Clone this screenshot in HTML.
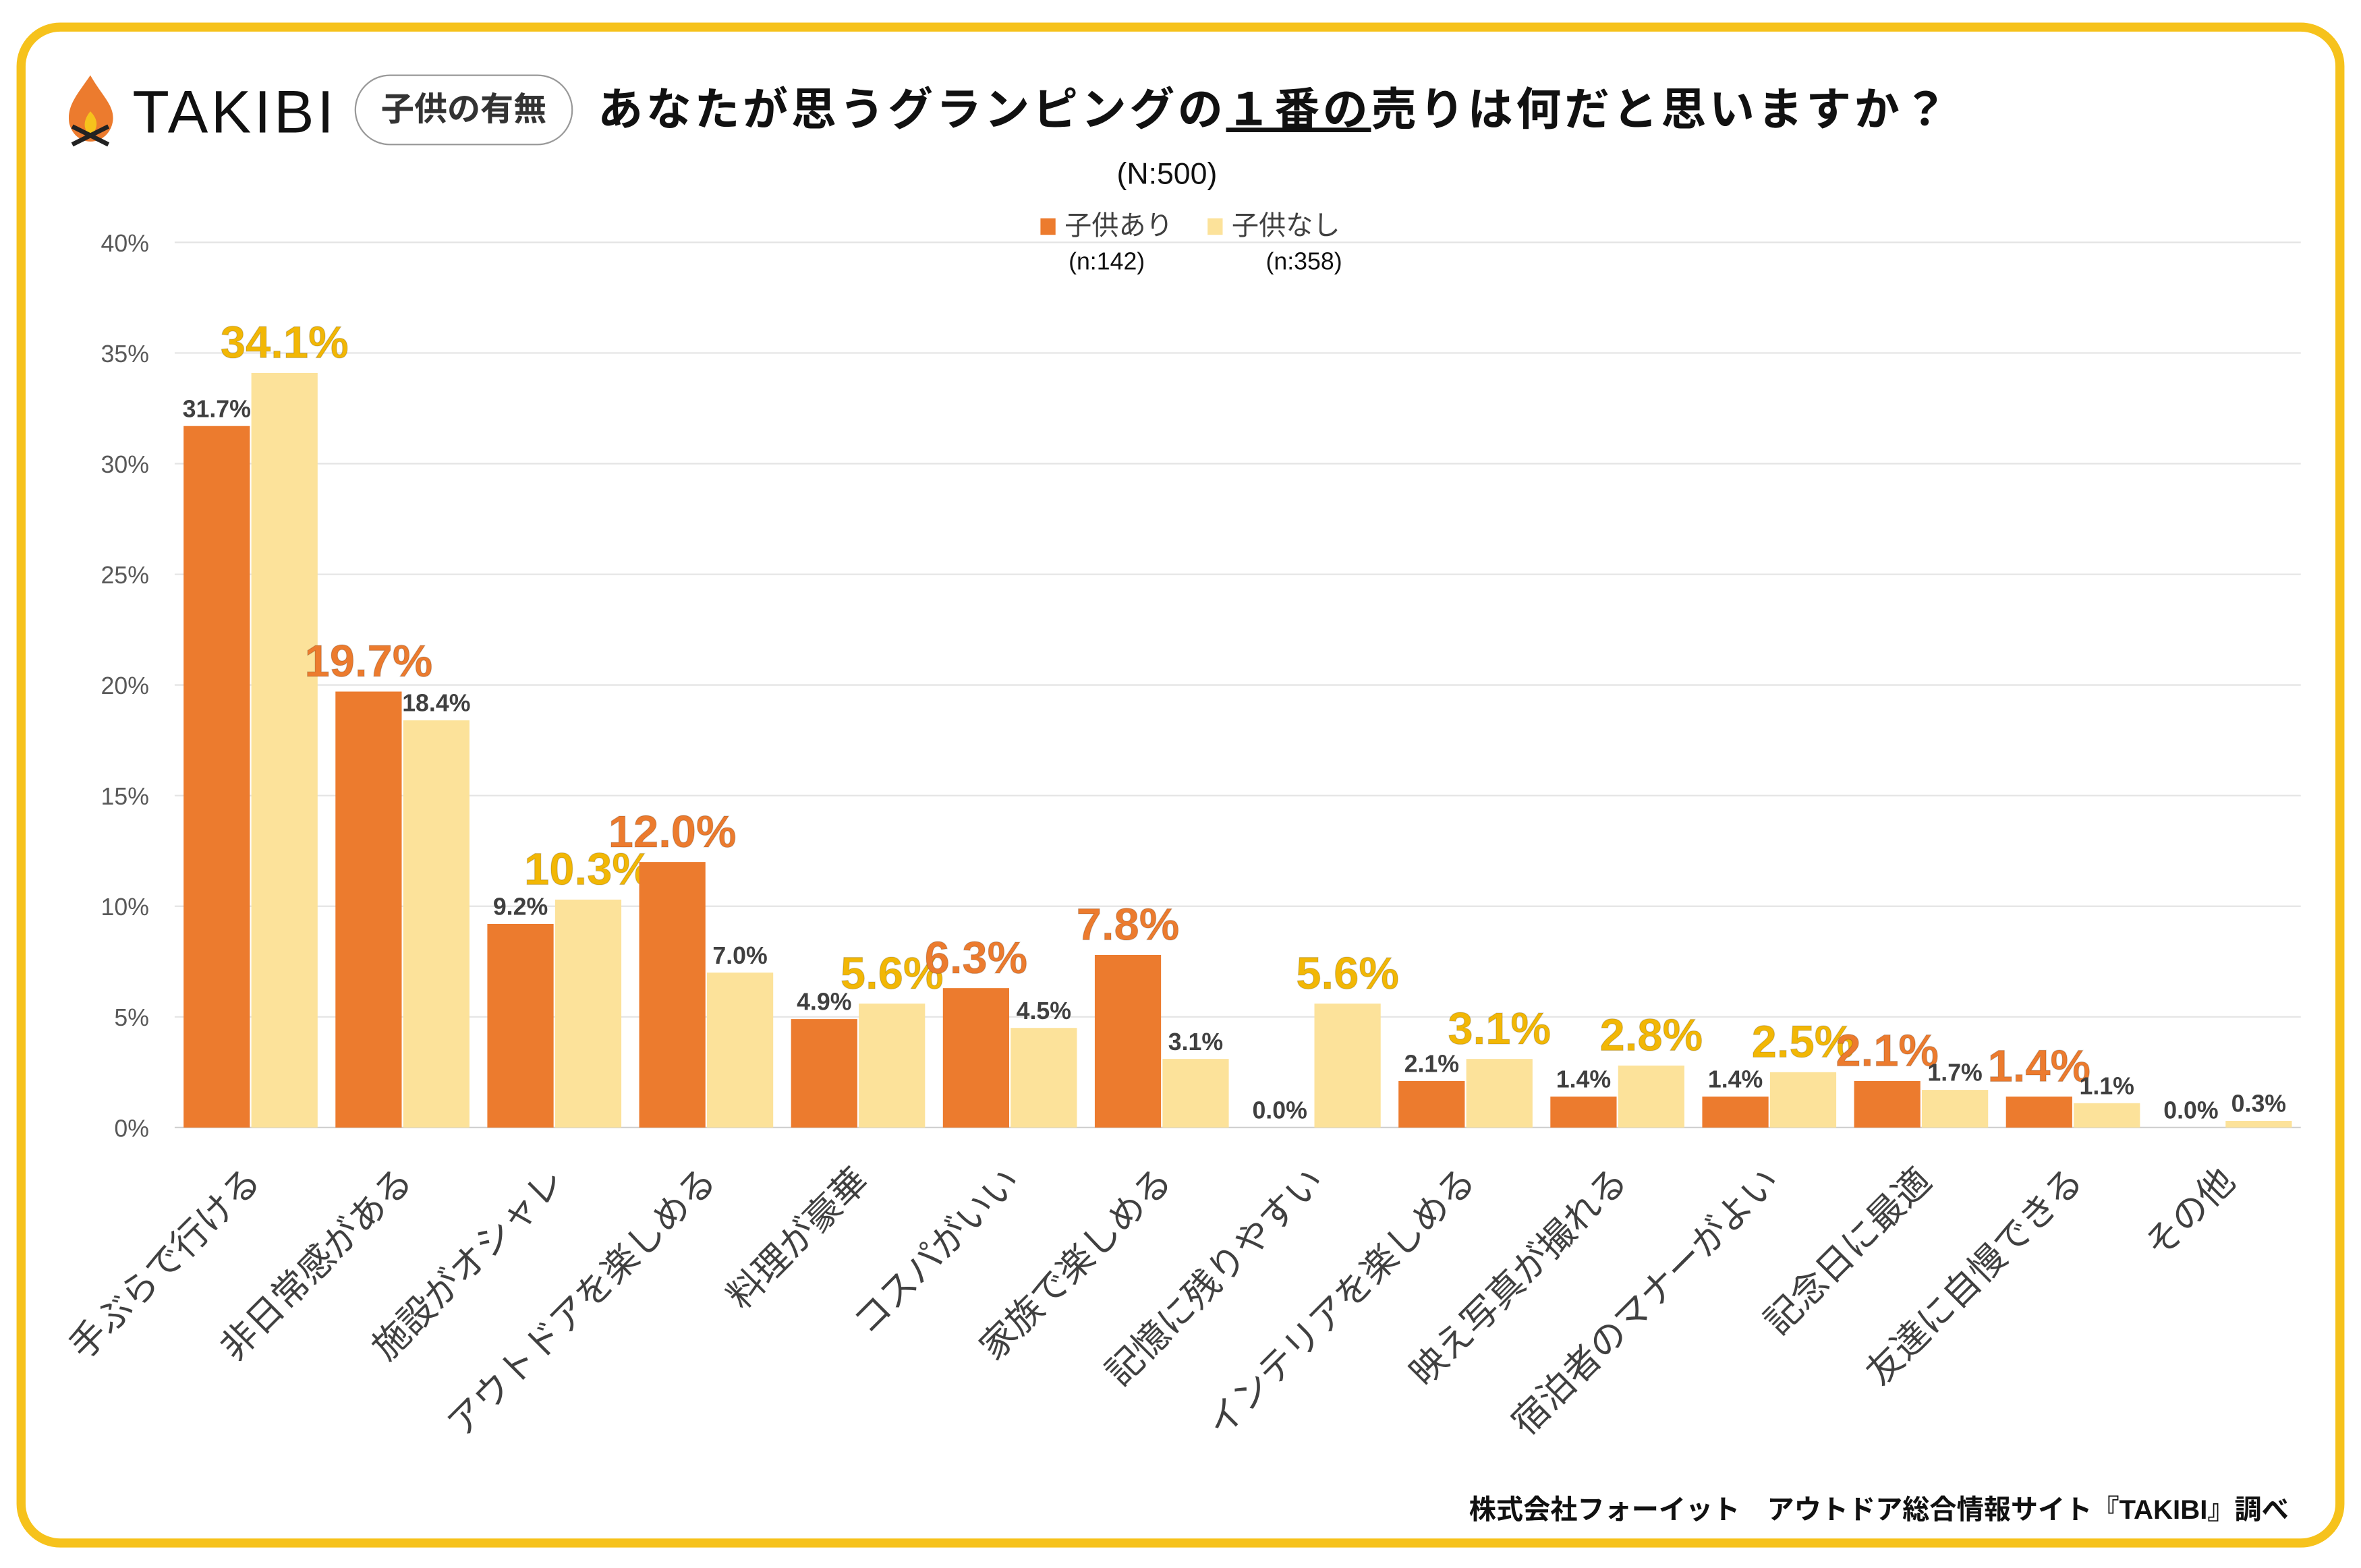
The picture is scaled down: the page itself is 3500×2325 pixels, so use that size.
<!DOCTYPE html>
<html><head><meta charset="utf-8"><style>
html,body{margin:0;padding:0;background:#fff;}
svg{display:block;}
text{font-family:"Liberation Sans","Noto Sans CJK JP",sans-serif;}
</style></head><body>
<svg id="chart" width="3500" height="2325" viewBox="0 0 1568 1041.6" xmlns="http://www.w3.org/2000/svg">
<rect x="0" y="0" width="1568" height="1042" fill="#fff"/>
<rect x="14" y="18" width="1540" height="1007" rx="26" ry="26" fill="#fff" stroke="#F6C21C" stroke-width="6"/>
<g>
<path d="M60 50 C52 62 44 70 46 82 C48 90 54 94 60 94 C68 94 74 88 75 80 C76 70 68 64 60 50 Z" fill="#EC7B2E"/>
<path d="M60 74 C55 80 55 86 60 90 C65 86 66 80 60 74 Z" fill="#F6C21C"/>
<path d="M48 96 L72 84 M72 96 L48 84" stroke="#222" stroke-width="3"/>
<text x="88" y="88" font-size="40" fill="#111" letter-spacing="2">TAKIBI</text>
</g>
<rect x="236" y="50" width="144" height="46" rx="23" fill="#fff" stroke="#999" stroke-width="1"/>
<text x="308" y="80" font-size="22" font-weight="bold" fill="#333" text-anchor="middle">子供の有無</text>
<text x="397" y="83" font-size="30" font-weight="bold" fill="#111" letter-spacing="2.1">あなたが思うグランピングの<tspan text-decoration="underline">１番の</tspan>売りは何だと思いますか？</text>
<text x="775" y="122" font-size="20" fill="#111" text-anchor="middle">(N:500)</text>
<g>
<rect x="691" y="145" width="10" height="11" fill="#EC7B2E"/>
<text x="707" y="156" font-size="18" fill="#404040">子供あり</text>
<rect x="802" y="145" width="10" height="11" fill="#FCE29A"/>
<text x="818" y="156" font-size="18" fill="#404040">子供なし</text>
<text x="735" y="179" font-size="16" fill="#111" text-anchor="middle">(n:142)</text>
<text x="866" y="179" font-size="16" fill="#111" text-anchor="middle">(n:358)</text>
</g>
<g id="plot"></g>
<text x="1520" y="1009" font-size="18" font-weight="bold" fill="#111" text-anchor="end">株式会社フォーイット　アウトドア総合情報サイト『TAKIBI』調べ</text>
</svg>
<script>
const categories = ["手ぶらで行ける","非日常感がある","施設がオシャレ","アウトドアを楽しめる","料理が豪華","コスパがいい","家族で楽しめる","記憶に残りやすい","インテリアを楽しめる","映え写真が撮れる","宿泊者のマナーがよい","記念日に最適","友達に自慢できる","その他"];
const withChildren = [31.7,19.7,9.2,12.0,4.9,6.3,7.8,0.0,2.1,1.4,1.4,2.1,1.4,0.0];
const withoutChildren = [34.1,18.4,10.3,7.0,5.6,4.5,3.1,5.6,3.1,2.8,2.5,1.7,1.1,0.3];
const yTicks = [0,5,10,15,20,25,30,35,40];

const NS = "http://www.w3.org/2000/svg";
const plot = document.getElementById('plot');
const X0 = 116, X1 = 1528, Y0 = 749, Y40 = 161;
const yS = v => Y0 - (v / 40) * (Y0 - Y40);
const gw = (X1 - X0) / categories.length;
const gc = i => X0 + gw * (i + 0.5);
function mk(tag, attrs, txt) {
  const e = document.createElementNS(NS, tag);
  for (const k in attrs) e.setAttribute(k, attrs[k]);
  if (txt !== undefined) e.textContent = txt;
  plot.appendChild(e);
  return e;
}
yTicks.forEach(t => {
  const l = mk('line', {x1: X0, x2: X1, y1: yS(t), y2: yS(t), stroke: t === 0 ? '#d0d0d0' : '#e4e4e4', 'stroke-width': 1});
  
  
  const tx = mk('text', {x: 99, y: yS(t) + 6, 'font-size': 16, fill: '#595959', 'text-anchor': 'end'}, t + '%');
  
  
});
const bw = 44;
categories.forEach((c, i) => {
  const a = withChildren[i], b = withoutChildren[i];
  const xa = gc(i) - bw - 0.5, xb = gc(i) + 0.5;
  const ra = mk('rect', {x: xa, y: yS(a), width: bw, height: Y0 - yS(a), fill: '#EC7B2E'});
  
  
  const rb = mk('rect', {x: xb, y: yS(b), width: bw, height: Y0 - yS(b), fill: '#FCE29A'});
  
  
  const mx = Math.max(a, b);
  [[a, xa, '#EC7B2E'], [b, xb, '#F2B705']].forEach(([v, x, col], k) => {
    const big = v === mx && mx >= 1;
    const cx = x + bw / 2;
    let t;
    if (big) {
      t = mk('text', {x: cx, y: yS(v) - 10, 'font-size': 30, 'font-weight': 'bold', fill: col, 'text-anchor': 'middle', stroke: 'rgba(0,0,0,0.15)', 'stroke-width': 0.6}, v.toFixed(1) + '%');
    } else {
      t = mk('text', {x: cx, y: yS(v) - 6, 'font-size': 16, 'font-weight': 'bold', fill: '#404040', 'text-anchor': 'middle'}, v.toFixed(1) + '%');
    }
    
    
  });
  const cl = mk('text', {x: 0, y: 0, 'font-size': 24, fill: '#404040', 'text-anchor': 'end', transform: 'translate(' + (gc(i) + 8) + ',786) rotate(-45)'}, c);
  
  
});
</script>
</body></html>
